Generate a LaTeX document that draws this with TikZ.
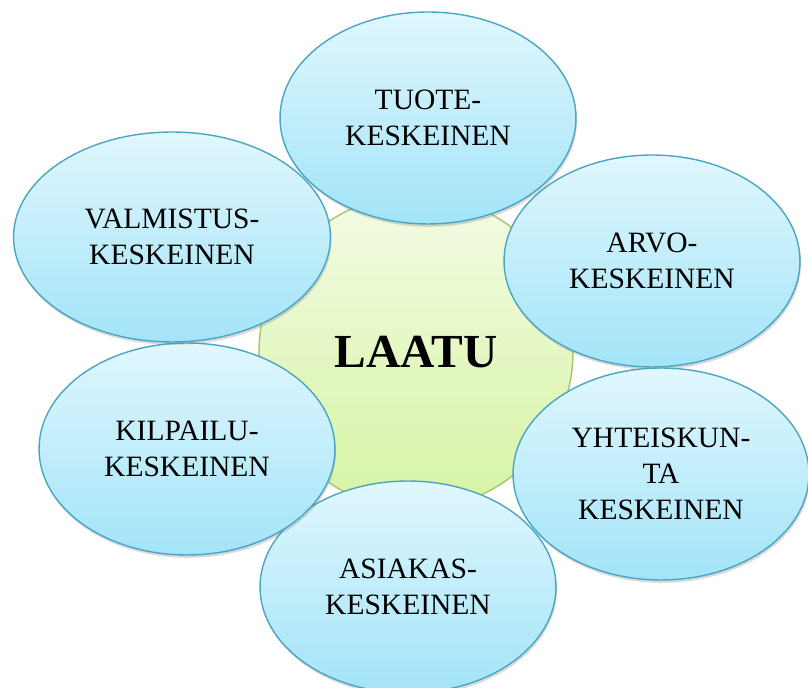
\documentclass[tikz,border=0pt]{standalone}
\usepackage{fontspec}
\setmainfont{Liberation Serif}
\usepackage{xcolor}
\usepackage{tikz}
\usetikzlibrary{shapes.geometric, shadows}
\definecolor{petaltop}{HTML}{E0F7FD}
\definecolor{petalbottom}{HTML}{A3E4F8}
\definecolor{petalline}{HTML}{4BA6C4}
\definecolor{coretop}{HTML}{F3FBE4}
\definecolor{corebottom}{HTML}{D6F4A4}
\definecolor{coreline}{HTML}{A8C46A}
\tikzstyle{petal} = [ellipse, draw=petalline, line width=0.8pt,
                     top color=petaltop, bottom color=petalbottom,
                     minimum width=5.92cm, minimum height=4.24cm, inner sep=0pt,
                     align=center, font=\fontsize{16.8}{20.5}\selectfont,
                     drop shadow={shadow xshift=0.6pt, shadow yshift=-1.6pt, opacity=0.3}]
\tikzstyle{core}  = [circle, draw=coreline, line width=0.8pt,
                     top color=coretop, bottom color=corebottom,
                     minimum size=6.28cm, inner sep=0pt,
                     font=\fontsize{27}{30}\selectfont\bfseries]
\begin{document}
\begin{tikzpicture}[x=0.02cm, y=-0.02cm]
  \useasboundingbox (0,0) rectangle (808,688);
  \clip (0,0) rectangle (808,688);

  % Central concept
  \node[core] (laatu) at (416,352) {LAATU};

  % Petals, clockwise from the top
  \node[petal] (tuote)     at (428,118) {TUOTE-\\KESKEINEN};
  \node[petal] (arvo)      at (652,261) {ARVO-\\KESKEINEN};
  \node[petal] (yhteiskunta) at (661,474) {YHTEISKUN-\\TA\\KESKEINEN};
  \node[petal] (asiakas)   at (408,587) {ASIAKAS-\\KESKEINEN};
  \node[petal] (kilpailu)  at (187,449) {KILPAILU-\\KESKEINEN};
  \node[petal, minimum width=6.34cm, minimum height=4.2cm] (valmistus) at (172,237) {VALMISTUS-\\KESKEINEN};
\end{tikzpicture}
\end{document}
